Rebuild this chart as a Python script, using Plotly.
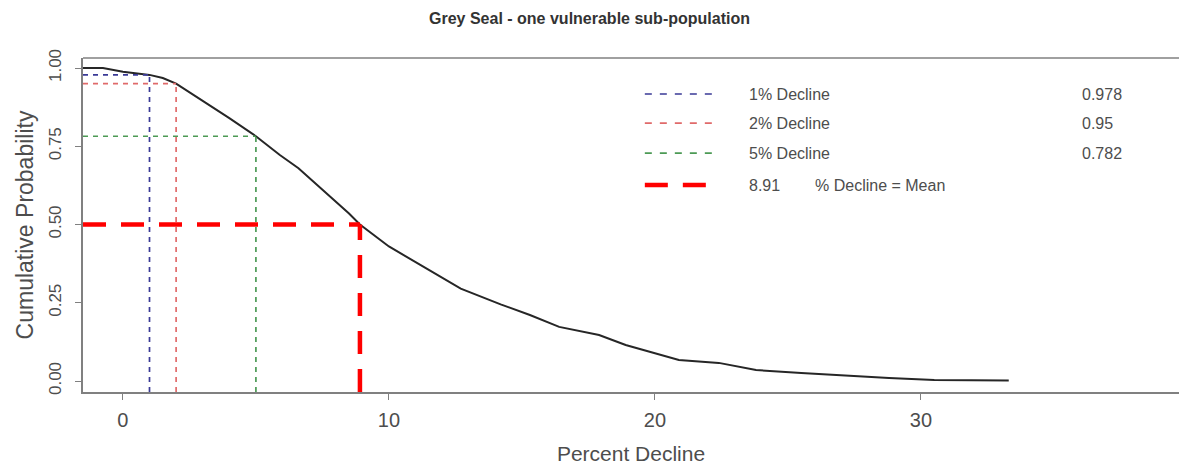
import plotly.graph_objects as go

# Cumulative probability of at least a given percent decline
decline_pct = [-1.5, -0.75, 0, 1, 1.5, 2, 3, 4, 5, 5.9, 6.6, 7.8, 8.5, 8.91, 10,
               11.5, 12.7, 14.2, 15.3, 16.4, 17.9, 18.9, 19.8, 20.9, 22.4, 23.8,
               25.5, 27.3, 28.8, 30.5, 33.3]
cum_prob = [1.0, 1.0, 0.988, 0.978, 0.968, 0.95, 0.895, 0.84, 0.782, 0.722, 0.68,
            0.59, 0.535, 0.5, 0.43, 0.355, 0.295, 0.245, 0.211, 0.173, 0.147,
            0.115, 0.093, 0.067, 0.058, 0.035, 0.026, 0.016, 0.010, 0.003, 0.002]

# Threshold declines and their probabilities
thresholds = [1, 2, 5]
threshold_probs = [0.978, 0.95, 0.782]
threshold_labels = ["1% Decline", "2% Decline", "5% Decline"]
threshold_colors = ["#3a3a96", "#e06a6a", "#4c9a55"]

mean_decline = 8.91
mean_prob = 0.5

x_ticks = [0, 10, 20, 30]
y_ticks = [0.0, 0.25, 0.5, 0.75, 1.0]
y_tick_text = ["0.00", "0.25", "0.50", "0.75", "1.00"]

X_RANGE = [-1.5, 39.7]
Y_RANGE = [-0.035, 1.032]

FONT = "Liberation Sans, Arial, sans-serif"
TEXT_COL = "#4d4d4d"

fig = go.Figure()

# main curve
fig.add_trace(go.Scatter(x=decline_pct, y=cum_prob, mode="lines",
                         line=dict(color="#262626", width=2),
                         showlegend=False, hoverinfo="skip"))

# threshold guide lines
for t, p, c in zip(thresholds, threshold_probs, threshold_colors):
    fig.add_trace(go.Scatter(x=[X_RANGE[0], t], y=[p, p], mode="lines",
                             line=dict(color=c, width=1.7, dash="5px,5px"),
                             showlegend=False, hoverinfo="skip"))
    fig.add_trace(go.Scatter(x=[t, t], y=[Y_RANGE[0], p], mode="lines",
                             line=dict(color=c, width=1.7, dash="5px,5px"),
                             showlegend=False, hoverinfo="skip"))

# mean guide lines
fig.add_trace(go.Scatter(x=[X_RANGE[0], mean_decline], y=[mean_prob, mean_prob],
                         mode="lines",
                         line=dict(color="#ff0000", width=4.5, dash="23px,15px"),
                         showlegend=False, hoverinfo="skip"))
fig.add_trace(go.Scatter(x=[mean_decline, mean_decline], y=[Y_RANGE[0], mean_prob],
                         mode="lines",
                         line=dict(color="#ff0000", width=4.5, dash="23px,15px"),
                         showlegend=False, hoverinfo="skip"))

# legend block drawn inside the plot
leg_x0, leg_x1 = 19.62, 22.37
leg_rows = [0.917, 0.824, 0.728, 0.626]
label_x = 23.46
value_x = 35.98
annotations = []
for row, lab, p, c in zip(leg_rows, threshold_labels, threshold_probs, threshold_colors):
    fig.add_trace(go.Scatter(x=[leg_x0, leg_x1], y=[row, row], mode="lines",
                             line=dict(color=c, width=1.7, dash="7px,8px"),
                             showlegend=False, hoverinfo="skip"))
    annotations.append(dict(x=label_x, y=row, text=lab, showarrow=False,
                            xanchor="left", yanchor="middle",
                            font=dict(family=FONT, size=16, color=TEXT_COL)))
    annotations.append(dict(x=value_x, y=row, text=f"{p:g}", showarrow=False,
                            xanchor="left", yanchor="middle",
                            font=dict(family=FONT, size=16, color=TEXT_COL)))
fig.add_trace(go.Scatter(x=[leg_x0, leg_x1], y=[leg_rows[3], leg_rows[3]], mode="lines",
                         line=dict(color="#ff0000", width=4.5, dash="23px,15px"),
                         showlegend=False, hoverinfo="skip"))
annotations.append(dict(x=label_x, y=leg_rows[3], text=f"{mean_decline:g}",
                        showarrow=False, xanchor="left", yanchor="middle",
                        font=dict(family=FONT, size=16, color=TEXT_COL)))
annotations.append(dict(x=25.94, y=leg_rows[3], text="% Decline = Mean",
                        showarrow=False, xanchor="left", yanchor="middle",
                        font=dict(family=FONT, size=16, color=TEXT_COL)))

fig.update_layout(
    width=1179, height=468,
    margin=dict(l=83, r=0, t=58, b=76),
    paper_bgcolor="white", plot_bgcolor="white",
    title=dict(text="<b>Grey Seal - one vulnerable sub-population</b>",
               x=0.5, xref="container", xanchor="center",
               y=1 - 18 / 468, yref="container", yanchor="middle",
               font=dict(family=FONT, size=16, color="#333333")),
    annotations=annotations,
    shapes=[dict(type="line", xref="paper", yref="paper", x0=0, x1=1, y0=1, y1=1,
                 line=dict(color="#808080", width=1.5))],
    xaxis=dict(range=X_RANGE, tickvals=x_ticks, showgrid=False, zeroline=False,
               showline=True, linecolor="#808080", linewidth=1.5,
               ticks="outside", ticklen=6, tickcolor="#808080",
               ticklabelstandoff=3,
               tickfont=dict(family=FONT, size=20, color=TEXT_COL),
               title=dict(text="Percent Decline", standoff=17,
                          font=dict(family=FONT, size=21, color=TEXT_COL))),
    yaxis=dict(range=Y_RANGE, tickvals=y_ticks, ticktext=y_tick_text,
               tickangle=-90, showgrid=False, zeroline=False,
               showline=True, linecolor="#808080", linewidth=1.5,
               ticks="outside", ticklen=6, tickcolor="#808080",
               ticklabelstandoff=7,
               tickfont=dict(family=FONT, size=17, color=TEXT_COL),
               title=dict(text="Cumulative Probability", standoff=6,
                          font=dict(family=FONT, size=23, color=TEXT_COL))),
)

fig.write_html("out.html")
